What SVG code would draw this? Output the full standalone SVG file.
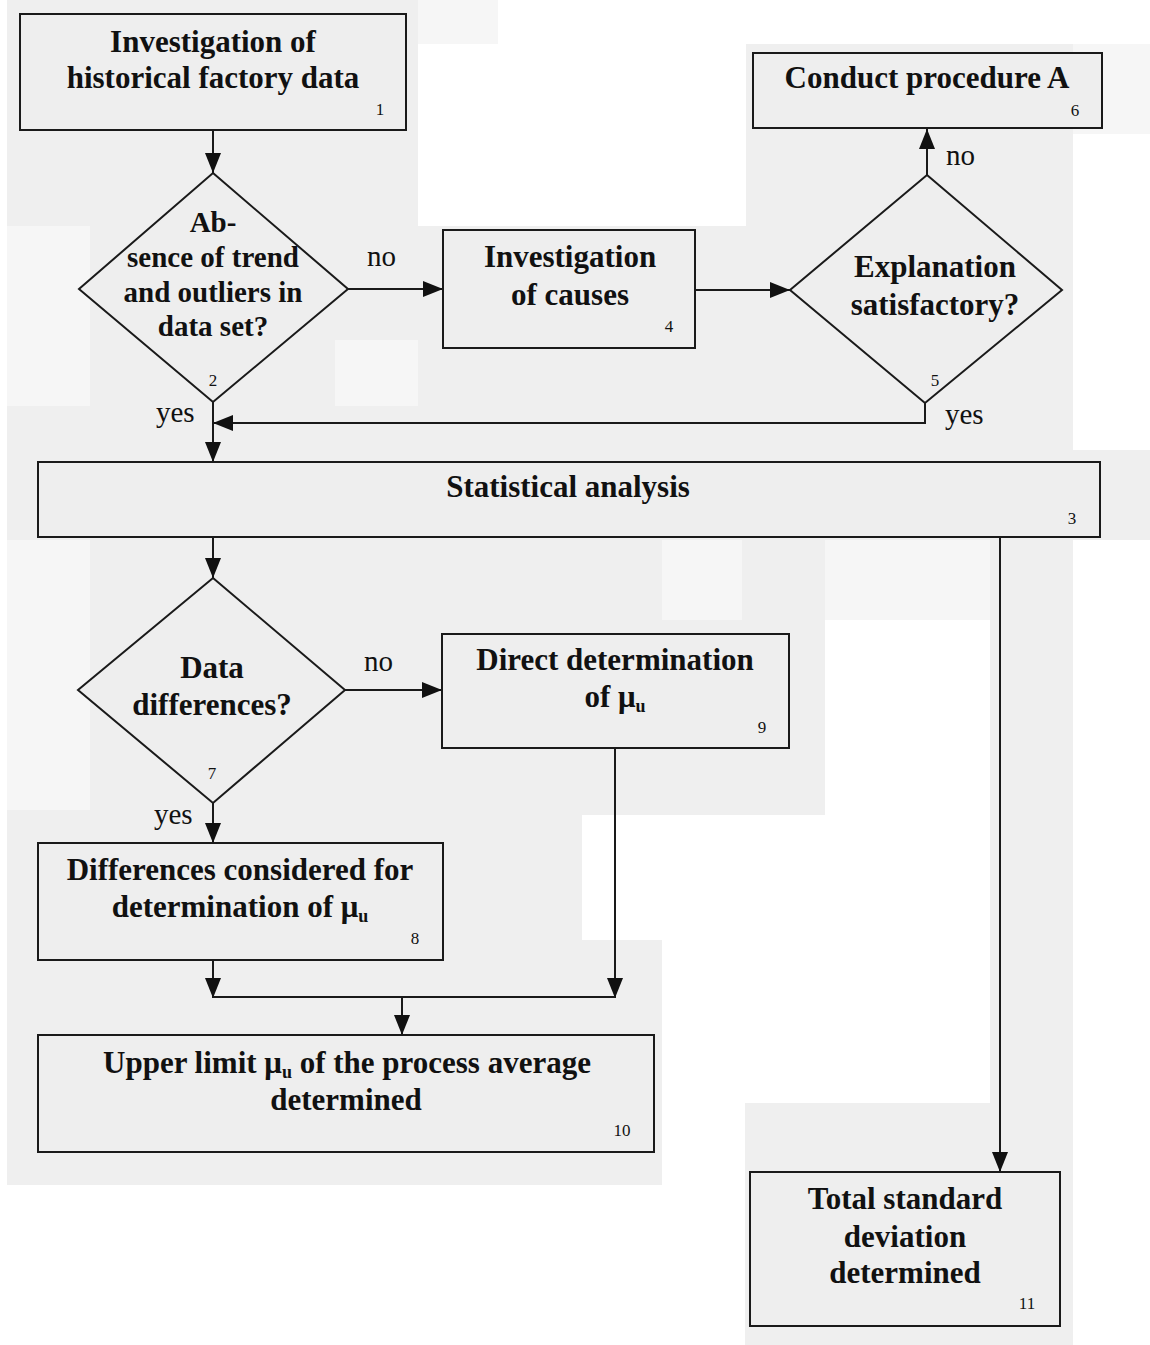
<svg xmlns="http://www.w3.org/2000/svg" width="1150" height="1345" viewBox="0 0 1150 1345">
<defs>
<style>
.box{fill:#eeeeee;stroke:#1a1a1a;stroke-width:2}
.t{font-family:"Liberation Serif","Times New Roman",serif;font-weight:bold;font-size:31px;fill:#111;text-anchor:middle}
.t2{font-family:"Liberation Serif","Times New Roman",serif;font-weight:bold;font-size:29px;fill:#111;text-anchor:middle}
.lbl{font-family:"Liberation Serif","Times New Roman",serif;font-size:29px;fill:#111}
.num{font-family:"Liberation Serif","Times New Roman",serif;font-size:17px;fill:#111;text-anchor:middle}
.ln{fill:none;stroke:#1a1a1a;stroke-width:2}
.bg{fill:#efefef}
.bg2{fill:#f6f6f6}
</style>
<marker id="ah" markerUnits="userSpaceOnUse" markerWidth="20" markerHeight="16" refX="20" refY="8" viewBox="0 0 20 16" orient="auto">
<path d="M0,0 L20,8 L0,16 Z" fill="#111"/>
</marker>
</defs>
<rect x="0" y="0" width="1150" height="1345" fill="#ffffff"/>
<g id="background">
<rect class="bg" x="7" y="0" width="411" height="226"/>
<rect class="bg2" x="418" y="0" width="80" height="44"/>
<rect class="bg" x="746" y="44" width="327" height="190"/>
<rect class="bg2" x="1073" y="44" width="77" height="90"/>
<rect class="bg" x="7" y="226" width="1066" height="230"/>
<rect class="bg2" x="7" y="226" width="83" height="180"/>
<rect class="bg2" x="335" y="340" width="83" height="66"/>
<rect class="bg" x="7" y="450" width="1143" height="90"/>
<rect class="bg" x="7" y="540" width="655" height="645"/>
<rect class="bg" x="662" y="540" width="163" height="275"/>
<rect class="bg2" x="662" y="540" width="80" height="80"/>
<rect class="bg2" x="825" y="540" width="165" height="80"/>
<rect class="bg" x="990" y="540" width="83" height="805"/>
<rect class="bg" x="745" y="1103" width="328" height="242"/>
<rect fill="#ffffff" x="582" y="815" width="80" height="125"/>
<rect class="bg2" x="7" y="540" width="83" height="270"/>
</g>
<g id="connectors">
<line class="ln" x1="213" y1="130" x2="213" y2="173" marker-end="url(#ah)"/>
<line class="ln" x1="348" y1="289" x2="443" y2="289" marker-end="url(#ah)"/>
<line class="ln" x1="695" y1="290" x2="790" y2="290" marker-end="url(#ah)"/>
<line class="ln" x1="927" y1="175" x2="927" y2="129" marker-end="url(#ah)"/>
<polyline class="ln" points="925,403 925,423 213,423" marker-end="url(#ah)"/>
<line class="ln" x1="213" y1="402" x2="213" y2="462" marker-end="url(#ah)"/>
<line class="ln" x1="213" y1="537" x2="213" y2="578" marker-end="url(#ah)"/>
<line class="ln" x1="345" y1="690" x2="442" y2="690" marker-end="url(#ah)"/>
<line class="ln" x1="213" y1="803" x2="213" y2="843" marker-end="url(#ah)"/>
<line class="ln" x1="213" y1="960" x2="213" y2="998" marker-end="url(#ah)"/>
<line class="ln" x1="615" y1="748" x2="615" y2="998" marker-end="url(#ah)"/>
<line class="ln" x1="213" y1="997" x2="615" y2="997"/>
<line class="ln" x1="402" y1="997" x2="402" y2="1035" marker-end="url(#ah)"/>
<line class="ln" x1="1000" y1="537" x2="1000" y2="1172" marker-end="url(#ah)"/>
<text class="lbl" x="367" y="266">no</text>
<text class="lbl" x="946" y="165">no</text>
<text class="lbl" x="156" y="422">yes</text>
<text class="lbl" x="945" y="424">yes</text>
<text class="lbl" x="364" y="671">no</text>
<text class="lbl" x="154" y="824">yes</text>
</g>
<g id="node1">
<rect class="box" x="20" y="14" width="386" height="116"/>
<text class="t" x="213" y="52">Investigation of</text>
<text class="t" x="213" y="88">historical factory data</text>
<text class="num" x="380" y="115">1</text>
</g>
<g id="node2">
<polygon class="box" points="213,173 348,289 213,402 79,289"/>
<text class="t2" x="213" y="232">Ab-</text>
<text class="t2" x="213" y="267">sence of trend</text>
<text class="t2" x="213" y="302">and outliers in</text>
<text class="t2" x="213" y="336">data set?</text>
<text class="num" x="213" y="386">2</text>
</g>
<g id="node3">
<rect class="box" x="38" y="462" width="1062" height="75"/>
<text class="t" x="568" y="497">Statistical analysis</text>
<text class="num" x="1072" y="524">3</text>
</g>
<g id="node4">
<rect class="box" x="443" y="230" width="252" height="118"/>
<text class="t" x="570" y="267">Investigation</text>
<text class="t" x="570" y="305">of causes</text>
<text class="num" x="669" y="332">4</text>
</g>
<g id="node5">
<polygon class="box" points="927,175 1062,290 925,403 790,290"/>
<text class="t" x="935" y="277">Explanation</text>
<text class="t" x="935" y="315">satisfactory?</text>
<text class="num" x="935" y="386">5</text>
</g>
<g id="node6">
<rect class="box" x="753" y="53" width="349" height="75"/>
<text class="t" x="927" y="88">Conduct procedure A</text>
<text class="num" x="1075" y="116">6</text>
</g>
<g id="node7">
<polygon class="box" points="213,578 345,690 213,803 78,690"/>
<text class="t" x="212" y="678">Data</text>
<text class="t" x="212" y="715">differences?</text>
<text class="num" x="212" y="779">7</text>
</g>
<g id="node8">
<rect class="box" x="38" y="843" width="405" height="117"/>
<text class="t" x="240" y="880">Differences considered for</text>
<text class="t" x="240" y="917">determination of μ<tspan font-size="18" dy="5">u</tspan></text>
<text class="num" x="415" y="944">8</text>
</g>
<g id="node9">
<rect class="box" x="442" y="634" width="347" height="114"/>
<text class="t" x="615" y="670">Direct determination</text>
<text class="t" x="615" y="707">of μ<tspan font-size="18" dy="5">u</tspan></text>
<text class="num" x="762" y="733">9</text>
</g>
<g id="node10">
<rect class="box" x="38" y="1035" width="616" height="117"/>
<text class="t" x="347" y="1073">Upper limit μ<tspan font-size="18" dy="5">u</tspan><tspan dy="-5"> of the process average</tspan></text>
<text class="t" x="346" y="1110">determined</text>
<text class="num" x="622" y="1136">10</text>
</g>
<g id="node11">
<rect class="box" x="750" y="1172" width="310" height="154"/>
<text class="t" x="905" y="1209">Total standard</text>
<text class="t" x="905" y="1247">deviation</text>
<text class="t" x="905" y="1283">determined</text>
<text class="num" x="1027" y="1309">11</text>
</g>
</svg>
